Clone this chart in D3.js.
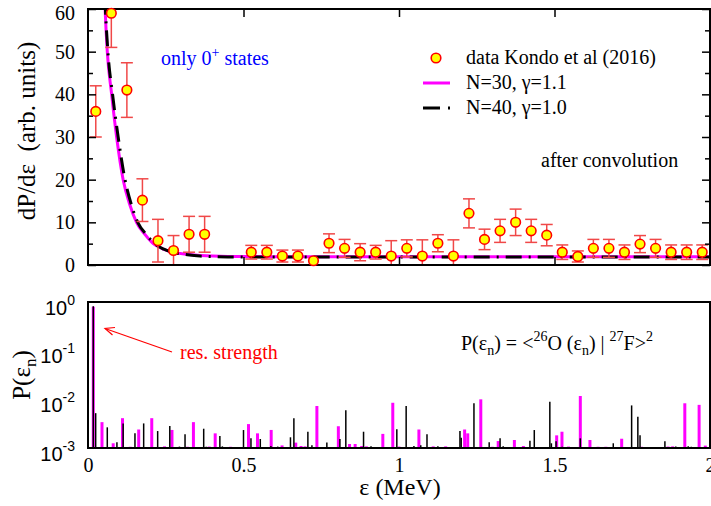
<!DOCTYPE html>
<html>
<head>
<meta charset="utf-8">
<script src="https://cdn.jsdelivr.net/npm/d3@7"></script>
<style>
  html, body { margin: 0; padding: 0; background: #fff; }
  svg { display: block; font-family: "Liberation Serif", "Times New Roman", serif; }
  .tick line { stroke: #000; stroke-width: 1.5; }
  .domain { display: none; }
</style>
</head>
<body>
<svg id="chart" width="711" height="506"></svg>
<script>
// ---- measured spectrum (upper panel): energy (MeV), dP/de, error ----
const dataE   = [0.025, 0.075, 0.125, 0.175, 0.225, 0.275, 0.325, 0.375,
                 0.525, 0.575, 0.625, 0.675, 0.725, 0.775, 0.825, 0.875, 0.925, 0.975,
                 1.025, 1.075, 1.125, 1.175, 1.225, 1.275, 1.325, 1.375, 1.425, 1.475,
                 1.525, 1.575, 1.625, 1.675, 1.725, 1.775, 1.825, 1.875, 1.925, 1.975];
const dataY   = [36, 59, 41, 15.2, 5.7, 3.4, 7.2, 7.2,
                 3.0, 3.0, 2.1, 2.1, 1.0, 5.1, 3.9, 3.0, 3.0, 2.1,
                 3.9, 2.1, 5.1, 2.1, 12.1, 6.0, 8.0, 10.0, 8.0, 7.0,
                 3.0, 2.0, 3.9, 3.9, 3.0, 4.9, 3.9, 3.0, 3.0, 3.0];
const dataErr = [6, 8, 6.4, 5, 5, 3.5, 4.2, 4.2,
                 1.6, 1.6, 1.4, 1.4, 0.3, 2.2, 2.1, 2.0, 1.6, 3.6,
                 2.0, 3.8, 2.0, 3.8, 3.4, 2.4, 2.7, 3.1, 2.7, 2.5,
                 1.7, 1.3, 2.1, 2.1, 1.7, 2.0, 2.1, 1.7, 1.7, 1.7];

// ---- convoluted model curves ----
const n30E = [0.045, 0.050, 0.055, 0.062, 0.076, 0.092, 0.113, 0.135, 0.156, 0.185, 0.21, 0.24,
              0.274, 0.32, 0.36, 0.45, 0.6, 0.8, 1.0, 1.2, 1.4, 1.6, 1.8, 2.0];
const n30Y = [85, 70, 60, 50, 40, 30, 20, 14, 10, 7, 5, 3.8,
              3.0, 2.5, 2.2, 2.0, 1.95, 1.95, 1.95, 1.95, 1.95, 1.95, 1.95, 1.95];
const n40E = [0.046, 0.051, 0.056, 0.064, 0.079, 0.097, 0.119, 0.140, 0.160, 0.189, 0.214, 0.244,
              0.278, 0.32, 0.36, 0.45, 0.6, 0.8, 1.0, 1.2, 1.4, 1.6, 1.8, 2.0];
const n40Y = [85, 70, 60, 50, 40, 30, 20, 14, 10, 7, 5, 3.7,
              2.9, 2.4, 2.1, 1.9, 1.85, 1.85, 1.85, 1.85, 1.85, 1.85, 1.85, 1.85];

// ---- overlap strengths P(e_n) (lower panel) ----
const stickN30E = [0.017, 0.045, 0.081, 0.111, 0.136, 0.163, 0.205, 0.246, 0.270, 0.320, 0.339, 0.390,
                   0.409, 0.458, 0.516, 0.545, 0.589, 0.624, 0.668, 0.685, 0.698, 0.736, 0.805, 0.841,
                   0.859, 0.880, 0.895, 0.948, 0.980, 1.000, 1.064, 1.110, 1.150, 1.211, 1.221, 1.263,
                   1.300, 1.319, 1.371, 1.400, 1.507, 1.524, 1.545, 1.583, 1.614, 1.640, 1.665, 1.716,
                   1.780, 1.845, 1.865, 1.880, 1.919, 1.965, 1.985];
const stickN30P = [0.80, 3.4e-3, 1.25e-3, 4.1e-3, 1.06e-3, 2.4e-3, 4.1e-3, 1.08e-3, 2.35e-3, 1.06e-3, 3.4e-3, 1.07e-3,
                   2.0e-3, 1.06e-3, 3.1e-3, 2.0e-3, 2.35e-3, 1.13e-3, 1.29e-3, 1.1e-3, 1.08e-3, 7.3e-3, 2.8e-3, 1.21e-3,
                   1.21e-3, 1.1e-3, 1.08e-3, 1.95e-3, 8.5e-3, 1.07e-3, 2.4e-3, 1.08e-3, 1.08e-3, 2.4e-3, 2.0e-3, 1.0e-2,
                   1.06e-3, 1.39e-3, 1.46e-3, 1.1e-3, 1.82e-3, 2.16e-3, 1.07e-3, 1.17e-2, 1.46e-3, 1.06e-3, 1.06e-3, 1.55e-3,
                   1.06e-3, 1.05e-3, 1.07e-3, 1.08e-3, 8.3e-3, 7.7e-3, 1.12e-3];
const stickN40E = [0.017, 0.0247, 0.062, 0.093, 0.113, 0.151, 0.179, 0.224, 0.263, 0.294, 0.312, 0.372,
                   0.380, 0.424, 0.432, 0.500, 0.524, 0.554, 0.588, 0.610, 0.651, 0.662, 0.707, 0.720,
                   0.768, 0.810, 0.829, 0.886, 0.910, 0.993, 1.023, 1.048, 1.070, 1.090, 1.125, 1.196,
                   1.200, 1.241, 1.290, 1.325, 1.335, 1.421, 1.435, 1.485, 1.490, 1.505, 1.525, 1.583,
                   1.689, 1.748, 1.768, 1.775, 1.855, 1.890, 1.930, 1.940];
const stickN40P = [0.82, 5.2e-3, 2.66e-3, 1.31e-3, 3.2e-3, 2.0e-3, 3.2e-3, 2.23e-3, 2.83e-3, 1.07e-3, 1.91e-3, 2.49e-3,
                   1.06e-3, 1.77e-3, 1.08e-3, 2.34e-3, 1.58e-3, 1.53e-3, 1.1e-3, 1.07e-3, 1.66e-3, 4.07e-3, 2.16e-3, 1.14e-3,
                   1.29e-3, 1.53e-3, 6.0e-3, 2.16e-3, 1.08e-3, 2.42e-3, 7.3e-3, 1.1e-3, 1.14e-3, 1.91e-3, 1.08e-3, 2.23e-3,
                   1.62e-3, 8.3e-3, 1.31e-3, 1.58e-3, 1.08e-3, 1.41e-3, 2.34e-3, 8.9e-3, 1.25e-3, 1.37e-3, 1.06e-3, 1.58e-3,
                   1.25e-3, 7.5e-3, 4.4e-3, 1.82e-3, 1.37e-3, 1.07e-3, 1.08e-3, 1.06e-3];

// ---- tick values ----
const xTicks      = [0, 0.5, 1, 1.5, 2];
const xTickLabels = ["0", "0.5", "1", "1.5", "2"];
const yTopMajor   = [0, 10, 20, 30, 40, 50, 60];
const yTopMinor   = [5, 15, 25, 35, 45, 55];
const yLogTicks   = [1, 0.1, 0.01, 0.001];
const yLogExps    = ["0", "-1", "-2", "-3"];

const svg = d3.select("#chart");
const FONT = 20;

const x    = d3.scaleLinear().domain([0, 2]).range([88, 710]);
const yTop = d3.scaleLinear().domain([0, 60]).range([265, 9]);
const yBot = d3.scaleLog().domain([1e-3, 1]).range([448, 302]);

const topBox = { x0: 88, x1: 710, y0: 9, y1: 265 };
const botBox = { x0: 88, x1: 710, y0: 302, y1: 448 };

svg.append("defs").append("clipPath").attr("id", "clipTop")
  .append("rect").attr("x", topBox.x0).attr("y", topBox.y0)
  .attr("width", topBox.x1 - topBox.x0).attr("height", topBox.y1 - topBox.y0);

// ===== upper panel =====
const gTop = svg.append("g");

// model curves
const mk = (E, Y) => E.map((e, i) => [e, Y[i]]);
const line = d3.line().x(d => x(d[0])).y(d => yTop(d[1])).curve(d3.curveMonotoneX);
const curves = gTop.append("g").attr("clip-path", "url(#clipTop)");
curves.append("path").datum(mk(n30E, n30Y)).attr("d", line)
  .attr("fill", "none").attr("stroke", "#ff00ff").attr("stroke-width", 3);
curves.append("path").datum(mk(n40E, n40Y)).attr("d", line)
  .attr("fill", "none").attr("stroke", "#000").attr("stroke-width", 3)
  .attr("stroke-dasharray", "16,7,2,7");

// error bars
const pts = dataE.map((e, i) => ({ e, y: dataY[i], err: dataErr[i] }));
const eb = gTop.append("g").attr("clip-path", "url(#clipTop)")
  .attr("stroke", "#f04848").attr("stroke-width", 1.5);
eb.selectAll("line.v").data(pts).join("line").attr("class", "v")
  .attr("x1", d => x(d.e)).attr("x2", d => x(d.e))
  .attr("y1", d => yTop(d.y - d.err)).attr("y2", d => yTop(d.y + d.err));
eb.selectAll("line.ct").data(pts.filter(d => d.err > 0.5)).join("line").attr("class", "ct")
  .attr("x1", d => x(d.e) - 6).attr("x2", d => x(d.e) + 6)
  .attr("y1", d => yTop(d.y + d.err)).attr("y2", d => yTop(d.y + d.err));
eb.selectAll("line.cb").data(pts.filter(d => d.err > 0.5)).join("line").attr("class", "cb")
  .attr("x1", d => x(d.e) - 6).attr("x2", d => x(d.e) + 6)
  .attr("y1", d => yTop(d.y - d.err)).attr("y2", d => yTop(d.y - d.err));

// axes (inward ticks)
const tickText = sel => sel.selectAll("text").attr("font-size", FONT)
  .attr("font-family", "Liberation Serif").attr("fill", "#000");
gTop.append("g").attr("transform", `translate(${topBox.x0},0)`)
  .call(d3.axisLeft(yTop).tickValues(yTopMajor).tickSize(-8).tickPadding(13).tickFormat(d3.format("d")))
  .call(tickText)
  .call(g => g.selectAll(".tick").filter(d => d === 60).select("text").attr("y", 4));
gTop.append("g").attr("transform", `translate(${topBox.x0},0)`)
  .call(d3.axisLeft(yTop).tickValues(yTopMinor).tickSize(-5).tickFormat(""));
gTop.append("g").attr("transform", `translate(${topBox.x1},0)`)
  .call(d3.axisRight(yTop).tickValues(yTopMajor).tickSize(-8).tickFormat(""));
gTop.append("g").attr("transform", `translate(${topBox.x1},0)`)
  .call(d3.axisRight(yTop).tickValues(yTopMinor).tickSize(-5).tickFormat(""));
gTop.append("g").attr("transform", `translate(0,${topBox.y0})`)
  .call(d3.axisTop(x).tickValues([0.5, 1, 1.5]).tickSize(-8).tickFormat(""));
gTop.append("g").attr("transform", `translate(0,${topBox.y1})`)
  .call(d3.axisBottom(x).tickValues([0.5, 1, 1.5]).tickSize(-8).tickFormat(""));

gTop.append("rect").attr("x", topBox.x0).attr("y", topBox.y0)
  .attr("width", topBox.x1 - topBox.x0).attr("height", topBox.y1 - topBox.y0)
  .attr("fill", "none").attr("stroke", "#000").attr("stroke-width", 2);

// data markers
gTop.append("g").selectAll("circle").data(pts).join("circle")
  .attr("cx", d => x(d.e)).attr("cy", d => yTop(d.y)).attr("r", 4.8)
  .attr("fill", "#ffff00").attr("stroke", "#ff0000").attr("stroke-width", 1.6);

// y title
svg.append("text").attr("transform", "translate(35,131) rotate(-90)")
  .attr("text-anchor", "middle").attr("font-size", 25).style("white-space", "pre")
  .text("dP/dε  (arb. units)");

// annotations
const only = svg.append("text").attr("x", 161).attr("y", 65).attr("font-size", FONT).attr("fill", "#0000ff");
only.append("tspan").text("only 0");
only.append("tspan").attr("dy", -8).attr("font-size", 14).text("+");
only.append("tspan").attr("dy", 8).text(" states");

svg.append("text").attr("x", 541).attr("y", 167).attr("font-size", FONT).text("after convolution");

// legend
const leg = svg.append("g");
leg.append("circle").attr("cx", 436).attr("cy", 58).attr("r", 4.8)
  .attr("fill", "#ffff00").attr("stroke", "#ff0000").attr("stroke-width", 1.6);
leg.append("text").attr("x", 466).attr("y", 64).attr("font-size", FONT).text("data Kondo et al (2016)");
leg.append("line").attr("x1", 423).attr("x2", 450).attr("y1", 83).attr("y2", 83)
  .attr("stroke", "#ff00ff").attr("stroke-width", 3);
leg.append("text").attr("x", 466).attr("y", 89).attr("font-size", FONT).text("N=30, γ=1.1");
leg.append("line").attr("x1", 423).attr("x2", 451).attr("y1", 108).attr("y2", 108)
  .attr("stroke", "#000").attr("stroke-width", 3).attr("stroke-dasharray", "17,8,2,8");
leg.append("text").attr("x", 466).attr("y", 114).attr("font-size", FONT).text("N=40, γ=1.0");

// ===== lower panel =====
const gBot = svg.append("g");
const sticks = (E, P) => E.map((e, i) => ({ e, p: P[i] }));
gBot.append("g").selectAll("line").data(sticks(stickN30E, stickN30P)).join("line")
  .attr("x1", d => x(d.e)).attr("x2", d => x(d.e))
  .attr("y1", yBot(1e-3)).attr("y2", d => yBot(d.p))
  .attr("stroke", "#ff00ff").attr("stroke-width", 3);
gBot.append("g").selectAll("line").data(sticks(stickN40E, stickN40P)).join("line")
  .attr("x1", d => x(d.e)).attr("x2", d => x(d.e))
  .attr("y1", yBot(1e-3)).attr("y2", d => yBot(d.p))
  .attr("stroke", "#000").attr("stroke-width", 1.5);

gBot.append("g").attr("transform", `translate(0,${botBox.y1})`)
  .call(d3.axisBottom(x).tickValues(xTicks).tickSize(0).tickPadding(10)
        .tickFormat((d, i) => xTickLabels[i]))
  .call(tickText);

const yAx = gBot.append("g").attr("transform", `translate(${botBox.x0},0)`)
  .call(d3.axisLeft(yBot).tickValues(yLogTicks).tickSize(0).tickFormat(""));
yAx.selectAll(".tick").each(function (d, i) {
  const t = d3.select(this).append("text").attr("x", -13).attr("y", 12)
    .attr("text-anchor", "end").attr("font-size", FONT).attr("fill", "#000");
  t.append("tspan").text("10");
  t.append("tspan").attr("dy", -10).attr("font-size", 14).text(yLogExps[i]);
});

gBot.append("rect").attr("x", botBox.x0).attr("y", botBox.y0)
  .attr("width", botBox.x1 - botBox.x0).attr("height", botBox.y1 - botBox.y0)
  .attr("fill", "none").attr("stroke", "#000").attr("stroke-width", 2);

// lower-panel titles
const pt = svg.append("text").attr("transform", "translate(30,375) rotate(-90)")
  .attr("text-anchor", "middle").attr("font-size", 25);
pt.append("tspan").text("P(ε");
pt.append("tspan").attr("dy", 6).attr("font-size", 17).text("n");
pt.append("tspan").attr("dy", -6).text(")");

svg.append("text").attr("x", 400).attr("y", 495).attr("text-anchor", "middle")
  .attr("font-size", 24).text("ε (MeV)");

// arrow to the ground-state strength
svg.append("line").attr("x1", 172).attr("y1", 352).attr("x2", 105).attr("y2", 328.5)
  .attr("stroke", "#ff0000").attr("stroke-width", 1.2);
svg.append("path").attr("d", "M115,327.5 L105,328.5 L112.5,335")
  .attr("fill", "none").attr("stroke", "#ff0000").attr("stroke-width", 1.2);
svg.append("text").attr("x", 180).attr("y", 359).attr("font-size", FONT).attr("fill", "#ff0000")
  .text("res. strength");

// overlap formula
const f = svg.append("text").attr("x", 461).attr("y", 350).attr("font-size", FONT);
f.append("tspan").text("P(ε");
f.append("tspan").attr("dy", 5).attr("font-size", 14).text("n");
f.append("tspan").attr("dy", -5).text(") = <");
f.append("tspan").attr("dy", -9).attr("font-size", 14).text("26");
f.append("tspan").attr("dy", 9).text("O (ε");
f.append("tspan").attr("dy", 5).attr("font-size", 14).text("n");
f.append("tspan").attr("dy", -5).text(") | ");
f.append("tspan").attr("dy", -9).attr("font-size", 14).text("27");
f.append("tspan").attr("dy", 9).text("F>");
f.append("tspan").attr("dy", -9).attr("font-size", 14).text("2");
</script>
</body>
</html>
